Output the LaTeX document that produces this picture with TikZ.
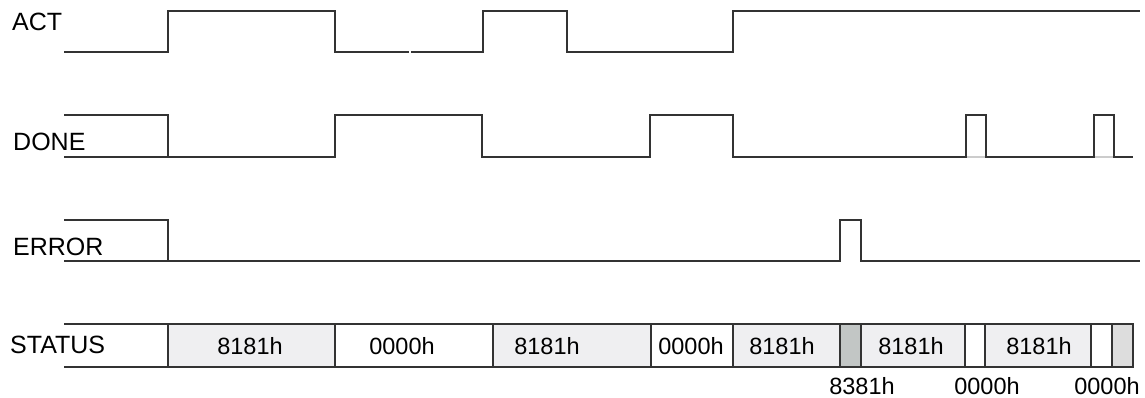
\documentclass[tikz,border=0pt]{standalone}
\usepackage{fontspec}
\setmainfont{Liberation Sans}
\definecolor{cellgray}{HTML}{EFEFF1}
\definecolor{cellerr}{HTML}{C2C6C5}
\definecolor{cellend}{HTML}{DDDDDD}
\definecolor{wire}{HTML}{333333}
\definecolor{wirelight}{HTML}{CCCCCC}
\begin{document}
\begin{tikzpicture}[x=1pt,y=-1pt,
  sig/.style={draw=wire, line width=1.2pt, line join=miter},
  faint/.style={draw=wirelight, line width=1.2pt},
  lbl/.style={anchor=base west, inner sep=0pt, font=\fontsize{25}{25}\selectfont},
  val/.style={anchor=base, inner sep=0pt, font=\fontsize{23.5}{23.5}\selectfont},
  cell/.style={draw=wire, line width=1.2pt}]
\useasboundingbox (0,0) rectangle (1145,398);

% labels
\node[lbl] (lact) at (12,31) {ACT};
\node[lbl] (ldone) at (13,151) {DONE};
\node[lbl] (lerr) at (13,255) {ERROR};
\node[lbl] (lstat) at (10,353) {STATUS};

% ACT
\draw[sig] (64,52) -- (168,52) -- (168,11) -- (335,11) -- (335,52) -- (409,52);
\draw[sig] (411,52) -- (483,52) -- (483,11) -- (567,11) -- (567,52) -- (733,52) -- (733,11) -- (1140,11);

% DONE
\draw[faint] (966,157) -- (986,157) (1094,157) -- (1114,157);
\draw[sig] (64,157) -- (168,157);
\draw[sig] (64,115) -- (168,115) -- (168,157) -- (335,157) -- (335,115) -- (482,115) -- (482,157)
  -- (650,157) -- (650,115) -- (733,115) -- (733,157) -- (966,157) -- (966,115) -- (986,115)
  -- (986,157) -- (1094,157) -- (1094,115) -- (1114,115) -- (1114,157) -- (1133,157);

% ERROR
\draw[sig] (64,220) -- (168,220) -- (168,261);
\draw[sig] (64,261) -- (840,261) -- (840,220) -- (861,220) -- (861,261) -- (1140,261);

% STATUS
\draw[sig] (64,324) -- (168,324) (64,367) -- (168,367);
\filldraw[cell, fill=cellgray] (168,324) rectangle (335,367);
\filldraw[cell, fill=white] (335,324) rectangle (493,367);
\filldraw[cell, fill=cellgray] (493,324) rectangle (651,367);
\filldraw[cell, fill=white] (651,324) rectangle (733,367);
\filldraw[cell, fill=cellgray] (733,324) rectangle (840,367);
\filldraw[cell, fill=cellerr] (840,324) rectangle (861,367);
\filldraw[cell, fill=cellgray] (861,324) rectangle (965,367);
\filldraw[cell, fill=white] (965,324) rectangle (985,367);
\filldraw[cell, fill=cellgray] (985,324) rectangle (1091,367);
\filldraw[cell, fill=white] (1091,324) rectangle (1112,367);
\filldraw[cell, fill=cellend] (1112,324) rectangle (1133,367);

\node[val] (v1) at (250,354) {8181h};
\node[val] (v2) at (402,354) {0000h};
\node[val] (v3) at (547,354) {8181h};
\node[val] (v4) at (691,354) {0000h};
\node[val] (v5) at (782,354) {8181h};
\node[val] (v6) at (911,354) {8181h};
\node[val] (v7) at (1039,354) {8181h};

\node[val] (b1) at (862,394) {8381h};
\node[val] (b2) at (987,394) {0000h};
\node[val] (b3) at (1107,394) {0000h};
\end{tikzpicture}
\end{document}
